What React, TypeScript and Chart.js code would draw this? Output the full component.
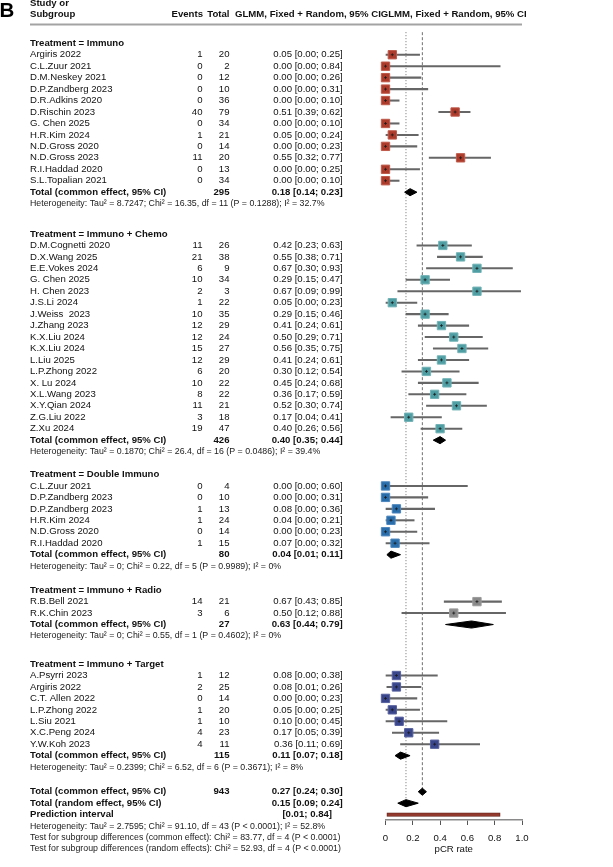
import React, { useEffect, useRef } from 'react';
import { Chart, registerables } from 'chart.js';

Chart.register(...registerables);

// ---------------- DATA ----------------
const immunoStudies = ['Argiris 2022', 'C.L.Zuur 2021', 'D.M.Neskey 2021', 'D.P.Zandberg 2023', 'D.R.Adkins 2020', 'D.Rischin 2023', 'G. Chen 2025', 'H.R.Kim 2024', 'N.D.Gross 2020', 'N.D.Gross 2023', 'R.I.Haddad 2020', 'S.L.Topalian 2021'];
const immunoEvents = [1, 0, 0, 0, 0, 40, 0, 1, 0, 11, 0, 0];
const immunoTotals = [20, 2, 12, 10, 36, 79, 34, 21, 14, 20, 13, 34];
const immunoRates = [0.05, 0.0, 0.0, 0.0, 0.0, 0.51, 0.0, 0.05, 0.0, 0.55, 0.0, 0.0];
const immunoLower = [0.0, 0.0, 0.0, 0.0, 0.0, 0.39, 0.0, 0.0, 0.0, 0.32, 0.0, 0.0];
const immunoUpper = [0.25, 0.84, 0.26, 0.31, 0.10, 0.62, 0.10, 0.24, 0.23, 0.77, 0.25, 0.10];

const chemoStudies = ['D.M.Cognetti 2020', 'D.X.Wang 2025', 'E.E.Vokes 2024', 'G. Chen 2025', 'H. Chen 2023', 'J.S.Li 2024', 'J.Weiss  2023', 'J.Zhang 2023', 'K.X.Liu 2024', 'K.X.Liu 2024', 'L.Liu 2025', 'L.P.Zhong 2022', 'X. Lu 2024', 'X.L.Wang 2023', 'X.Y.Qian 2024', 'Z.G.Liu 2022', 'Z.Xu 2024'];
const chemoEvents = [11, 21, 6, 10, 2, 1, 10, 12, 12, 15, 12, 6, 10, 8, 11, 3, 19];
const chemoTotals = [26, 38, 9, 34, 3, 22, 35, 29, 24, 27, 29, 20, 22, 22, 21, 18, 47];
const chemoRates = [0.42, 0.55, 0.67, 0.29, 0.67, 0.05, 0.29, 0.41, 0.50, 0.56, 0.41, 0.30, 0.45, 0.36, 0.52, 0.17, 0.40];
const chemoLower = [0.23, 0.38, 0.30, 0.15, 0.09, 0.0, 0.15, 0.24, 0.29, 0.35, 0.24, 0.12, 0.24, 0.17, 0.30, 0.04, 0.26];
const chemoUpper = [0.63, 0.71, 0.93, 0.47, 0.99, 0.23, 0.46, 0.61, 0.71, 0.75, 0.61, 0.54, 0.68, 0.59, 0.74, 0.41, 0.56];

const doubleStudies = ['C.L.Zuur 2021', 'D.P.Zandberg 2023', 'D.P.Zandberg 2023', 'H.R.Kim 2024', 'N.D.Gross 2020', 'R.I.Haddad 2020'];
const doubleEvents = [0, 0, 1, 1, 0, 1];
const doubleTotals = [4, 10, 13, 24, 14, 15];
const doubleRates = [0.0, 0.0, 0.08, 0.04, 0.0, 0.07];
const doubleLower = [0.0, 0.0, 0.0, 0.0, 0.0, 0.0];
const doubleUpper = [0.60, 0.31, 0.36, 0.21, 0.23, 0.32];

const radioStudies = ['R.B.Bell 2021', 'R.K.Chin 2023'];
const radioEvents = [14, 3];
const radioTotals = [21, 6];
const radioRates = [0.67, 0.50];
const radioLower = [0.43, 0.12];
const radioUpper = [0.85, 0.88];

const targetStudies = ['A.Psyrri 2023', 'Argiris 2022', 'C.T. Allen 2022', 'L.P.Zhong 2022', 'L.Siu 2021', 'X.C.Peng 2024', 'Y.W.Koh 2023'];
const targetEvents = [1, 2, 0, 1, 1, 4, 4];
const targetTotals = [12, 25, 14, 20, 10, 23, 11];
const targetRates = [0.08, 0.08, 0.0, 0.05, 0.10, 0.17, 0.36];
const targetLower = [0.0, 0.01, 0.0, 0.0, 0.0, 0.05, 0.11];
const targetUpper = [0.38, 0.26, 0.23, 0.25, 0.45, 0.39, 0.69];

const groupTitles = ['Treatment = Immuno', 'Treatment = Immuno + Chemo', 'Treatment = Double Immuno', 'Treatment = Immuno + Radio', 'Treatment = Immuno + Target'];
const groupTotalN = [295, 426, 80, 27, 115];
const groupRates = [0.18, 0.40, 0.04, 0.63, 0.11];
const groupLower = [0.14, 0.35, 0.01, 0.44, 0.07];
const groupUpper = [0.23, 0.44, 0.11, 0.79, 0.18];
const groupHeterogeneity = [
  'Heterogeneity: Tau² = 8.7247; Chi² = 16.35, df = 11 (P = 0.1288); I² = 32.7%',
  'Heterogeneity: Tau² = 0.1870; Chi² = 26.4, df = 16 (P = 0.0486); I² = 39.4%',
  'Heterogeneity: Tau² = 0; Chi² = 0.22, df = 5 (P = 0.9989); I² = 0%',
  'Heterogeneity: Tau² = 0; Chi² = 0.55, df = 1 (P = 0.4602); I² = 0%',
  'Heterogeneity: Tau² = 0.2399; Chi² = 6.52, df = 6 (P = 0.3671); I² = 8%',
];

const overallLabels = ['Total (common effect, 95% CI)', 'Total (random effect, 95% CI)', 'Prediction interval'];
const overallTotalN = 943;
const overallRates = [0.27, 0.15];
const overallLower = [0.24, 0.09];
const overallUpper = [0.30, 0.24];
const predictionInterval = [0.01, 0.84];
const overallNotes = [
  'Heterogeneity: Tau² = 2.7595; Chi² = 91.10, df = 43 (P < 0.0001); I² = 52.8%',
  'Test for subgroup differences (common effect): Chi² = 83.77, df = 4 (P < 0.0001)',
  'Test for subgroup differences (random effects): Chi² = 52.93, df = 4 (P < 0.0001)',
];

const headerLabels = ['Study or', 'Subgroup', 'Events', 'Total', 'GLMM, Fixed + Random, 95% CIGLMM, Fixed + Random, 95% CI'];
const panelLetter = 'B';
const axisTitle = 'pCR rate';
const xTickValues = [0, 0.2, 0.4, 0.6, 0.8, 1];

// ---------------- LAYOUT / STYLE ----------------
const W = 613;
const H = 867;
const FONT = '"Liberation Sans", Arial, Helvetica, sans-serif';
const FS = 9.6;
const FS_SMALL = 8.8;
const ROW_PX = 11.55;
const FIRST_ROW_PX = 36.7;
const AXIS_PX = 820;
const GROUP_GAPS = [2.65, 2.0, 2.1, 2.45, 2.15];
const COL = { name: 30, events: 202.5, total: 229.5, ci: 342.7, pred: 332, head: 235 };
const HEADER_PX = [3, 14.2];
const RULE_PX = 24.5;
const DIAMOND_H = 0.31;
const GROUP_FILL = ['#ad3b2c', '#4f9ea3', '#2a6dab', '#8a8a8a', '#3a468c'];
const GROUP_EDGE = ['#bf5a4b', '#73b3b7', '#4c86bd', '#9c9c9c', '#5862a0'];

const groups = [
  { studies: immunoStudies, events: immunoEvents, totals: immunoTotals, rates: immunoRates, lower: immunoLower, upper: immunoUpper },
  { studies: chemoStudies, events: chemoEvents, totals: chemoTotals, rates: chemoRates, lower: chemoLower, upper: chemoUpper },
  { studies: doubleStudies, events: doubleEvents, totals: doubleTotals, rates: doubleRates, lower: doubleLower, upper: doubleUpper },
  { studies: radioStudies, events: radioEvents, totals: radioTotals, rates: radioRates, lower: radioLower, upper: radioUpper },
  { studies: targetStudies, events: targetEvents, totals: targetTotals, rates: targetRates, lower: targetLower, upper: targetUpper },
];

function layoutRows() {
  let r = 0;
  const g = groups.map((grp, gi) => {
    const header = r;
    r += 1;
    const studyRows = grp.studies.map(() => r++);
    const totalRow = r++;
    const hetRow = r;
    r += GROUP_GAPS[gi];
    return { header, studyRows, totalRow, hetRow };
  });
  return { groups: g, common: r, random: r + 1, pred: r + 2, notes: [r + 3, r + 4, r + 5] };
}
const LAY = layoutRows();
const pxToRow = (px: number) => (px - FIRST_ROW_PX) / ROW_PX;

const fmt = (v: number) => v.toFixed(2);
const ciText = (e: number, l: number, u: number) => `${fmt(e)} [${fmt(l)}; ${fmt(u)}]`;

function diamond(est: number, lo: number, hi: number, row: number) {
  return [
    { x: lo, y: row },
    { x: est, y: row - DIAMOND_H },
    { x: hi, y: row },
    { x: est, y: row + DIAMOND_H },
    { x: lo, y: row },
  ];
}

function buildDatasets() {
  const ds: any[] = [];
  // reference lines
  ds.push({
    type: 'line', data: [{ x: overallRates[1], y: pxToRow(RULE_PX + 1) }, { x: overallRates[1], y: LAY.random }],
    borderColor: '#6f6f6f', borderWidth: 1, borderDash: [1, 2], pointRadius: 0, order: 10, clip: false, fill: false,
  });
  ds.push({
    type: 'line', data: [{ x: overallRates[0], y: pxToRow(RULE_PX + 1) }, { x: overallRates[0], y: LAY.common }],
    borderColor: '#6f6f6f', borderWidth: 1, borderDash: [3, 2], pointRadius: 0, order: 10, clip: false, fill: false,
  });
  // CI bars
  const ci: any[] = [];
  groups.forEach((g, gi) => g.rates.forEach((_, i) => ci.push({ x: [g.lower[i], g.upper[i]], y: LAY.groups[gi].studyRows[i] })));
  ds.push({
    type: 'bar', indexAxis: 'y', data: ci, barThickness: 1.4, backgroundColor: '#666666', borderWidth: 0,
    grouped: false, order: 8, clip: false,
  });
  // prediction interval
  ds.push({
    type: 'bar', indexAxis: 'y', data: [{ x: predictionInterval, y: LAY.pred }], barThickness: 3.6,
    backgroundColor: '#923a2e', borderColor: '#5e1f17', borderWidth: 0.8, borderSkipped: false,
    grouped: false, order: 8, clip: false,
  });
  // squares
  groups.forEach((g, gi) => {
    ds.push({
      type: 'scatter', data: g.rates.map((v, i) => ({ x: v, y: LAY.groups[gi].studyRows[i] })),
      pointStyle: 'rect', pointRadius: 5.9, pointBackgroundColor: GROUP_FILL[gi], pointBorderColor: GROUP_EDGE[gi],
      pointBorderWidth: 1, order: 4, clip: false,
    });
  });
  // center marks
  const marks: any[] = [];
  groups.forEach((g, gi) => g.rates.forEach((v, i) => marks.push({ x: v, y: LAY.groups[gi].studyRows[i] })));
  ds.push({
    type: 'scatter', data: marks, pointStyle: 'cross', pointRadius: 1.5, pointBorderColor: '#1a1a1a',
    pointBorderWidth: 0.8, pointBackgroundColor: '#1a1a1a', order: 3, clip: false,
  });
  // diamonds
  const diamonds = groupRates.map((e, gi) => diamond(e, groupLower[gi], groupUpper[gi], LAY.groups[gi].totalRow));
  diamonds.push(diamond(overallRates[0], overallLower[0], overallUpper[0], LAY.common));
  diamonds.push(diamond(overallRates[1], overallLower[1], overallUpper[1], LAY.random));
  diamonds.forEach((d) => ds.push({
    type: 'line', data: d, borderColor: '#000', backgroundColor: '#000', borderWidth: 1, pointRadius: 0,
    fill: 'shape', tension: 0, order: 2, clip: false,
  }));
  return ds;
}

const tablePlugin = {
  id: 'forestTable',
  afterDraw(chart: any) {
    const ctx = chart.ctx as CanvasRenderingContext2D;
    const ys = chart.scales.y;
    const xs = chart.scales.x;
    const py = (r: number) => ys.getPixelForValue(r);
    const put = (s: string, x: number, y: number, align: CanvasTextAlign, bold: boolean, size = FS, color = '#111') => {
      ctx.font = `${bold ? 'bold ' : ''}${size}px ${FONT}`;
      ctx.textAlign = align;
      ctx.fillStyle = color;
      ctx.fillText(s, x, y);
    };
    ctx.save();
    ctx.textBaseline = 'middle';

    // panel letter
    ctx.save();
    ctx.textBaseline = 'alphabetic';
    put(panelLetter, -0.5, 16.8, 'left', true, 20.5, '#000');
    ctx.restore();

    // header
    put(headerLabels[0], COL.name, HEADER_PX[0], 'left', true);
    put(headerLabels[1], COL.name, HEADER_PX[1], 'left', true);
    put(headerLabels[2], COL.events + 0.5, HEADER_PX[1], 'right', true);
    put(headerLabels[3], COL.total, HEADER_PX[1], 'right', true);
    put(headerLabels[4], COL.head, HEADER_PX[1], 'left', true);

    // rule
    ctx.strokeStyle = '#a3a3a3';
    ctx.lineWidth = 2;
    ctx.beginPath();
    ctx.moveTo(COL.name, RULE_PX);
    ctx.lineTo(xs.getPixelForValue(1), RULE_PX);
    ctx.stroke();

    groups.forEach((g, gi) => {
      const L = LAY.groups[gi];
      put(groupTitles[gi], COL.name, py(L.header), 'left', true);
      g.studies.forEach((name, i) => {
        const y = py(L.studyRows[i]);
        put(name, COL.name, y, 'left', false);
        put(String(g.events[i]), COL.events, y, 'right', false);
        put(String(g.totals[i]), COL.total, y, 'right', false);
        put(ciText(g.rates[i], g.lower[i], g.upper[i]), COL.ci, y, 'right', false);
      });
      const ty = py(L.totalRow);
      put(overallLabels[0], COL.name, ty, 'left', true);
      put(String(groupTotalN[gi]), COL.total, ty, 'right', true);
      put(ciText(groupRates[gi], groupLower[gi], groupUpper[gi]), COL.ci, ty, 'right', true);
      put(groupHeterogeneity[gi], COL.name, py(L.hetRow), 'left', false, FS_SMALL, '#1a1a1a');
    });

    const cy = py(LAY.common);
    put(overallLabels[0], COL.name, cy, 'left', true);
    put(String(overallTotalN), COL.total, cy, 'right', true);
    put(ciText(overallRates[0], overallLower[0], overallUpper[0]), COL.ci, cy, 'right', true);
    const ry = py(LAY.random);
    put(overallLabels[1], COL.name, ry, 'left', true);
    put(ciText(overallRates[1], overallLower[1], overallUpper[1]), COL.ci, ry, 'right', true);
    const pyy = py(LAY.pred);
    put(overallLabels[2], COL.name, pyy, 'left', true);
    put(`[${fmt(predictionInterval[0])}; ${fmt(predictionInterval[1])}]`, COL.pred, pyy, 'right', true);
    overallNotes.forEach((n, i) => put(n, COL.name, py(LAY.notes[i]), 'left', false, FS_SMALL, '#1a1a1a'));
    ctx.restore();
  },
};

export default function App() {
  const ref = useRef<HTMLCanvasElement>(null);
  useEffect(() => {
    document.body.style.margin = '0';
    document.body.style.overflow = 'hidden';
    Chart.defaults.font.family = FONT;
    const chart = new Chart(ref.current as HTMLCanvasElement, {
      type: 'scatter',
      data: { datasets: buildDatasets() },
      plugins: [tablePlugin],
      options: {
        responsive: false,
        animation: false,
        events: [],
        devicePixelRatio: 1,
        layout: { padding: { left: 385.5, right: W - 522, top: 0, bottom: 0 } },
        plugins: { legend: { display: false }, tooltip: { enabled: false } },
        scales: {
          x: {
            type: 'linear', min: 0, max: 1, offset: false,
            afterBuildTicks: (s: any) => { s.ticks = xTickValues.map((v) => ({ value: v })); },
            afterFit: (s: any) => { s.height = H - AXIS_PX; },
            ticks: { color: '#111', font: { size: FS, family: FONT }, padding: 8, maxRotation: 0, autoSkip: false },
            grid: { display: true, offset: false, drawOnChartArea: false, drawTicks: true, tickLength: 5, color: '#555', lineWidth: 1 },
            border: { display: true, color: '#8a8a8a', width: 1.5 },
            title: { display: true, text: axisTitle, color: '#111', font: { size: FS, family: FONT }, padding: { top: 0, bottom: 11.5 } },
          },
          y: {
            type: 'linear', display: false, reverse: true, offset: false,
            grid: { offset: false },
            min: pxToRow(0), max: pxToRow(AXIS_PX),
          },
        },
      } as any,
    });
    return () => chart.destroy();
  }, []);
  return (
    <div style={{ width: W, height: H }}>
      <canvas ref={ref} width={W} height={H} style={{ display: 'block' }} />
    </div>
  );
}
